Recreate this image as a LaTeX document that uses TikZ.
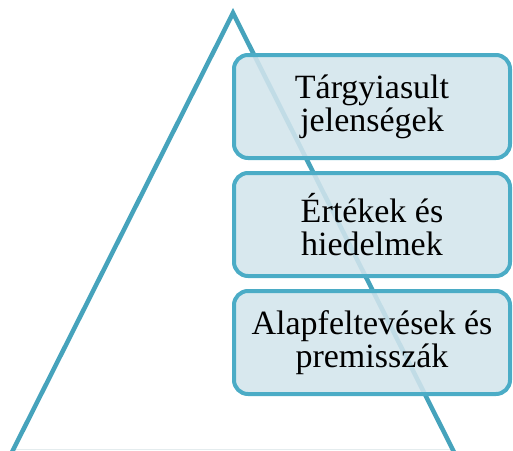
\documentclass[tikz,border=0pt]{standalone}
\usepackage{fontspec}
\setmainfont{Liberation Serif}
\definecolor{edgeblue}{HTML}{4BACC6}
\definecolor{lineblue}{HTML}{46A3BC}
\definecolor{boxfill}{HTML}{D3E5EC}
\definecolor{basegray}{HTML}{E4ECEE}
\tikzset{
  levelbox/.style={draw=edgeblue, line width=4pt, rounded corners=14pt,
    fill=boxfill, fill opacity=0.88, text opacity=1,
    minimum width=276pt, minimum height=103pt, inner sep=0pt,
    align=center, font=\fontsize{34pt}{33pt}\selectfont},
}
\begin{document}
\begin{tikzpicture}[x=1pt,y=-1pt]
\useasboundingbox (0,0) rectangle (513,450);
\begin{scope}
  \clip (0,0) rectangle (513,450);
  % pyramid outline, base below the frame
  \draw[draw=basegray, line width=1.5pt] (13,449.5) -- (455,449.5);
  \draw[lineblue, line width=4.5pt, line join=miter]
    (7,462) -- (233,13) -- (459,462);
\end{scope}
% the three levels
\node[levelbox] (top) at (372,106.5) {Tárgyiasult\\jelenségek};
\node[levelbox] (mid) at (372,224.5) {Értékek és\\hiedelmek};
\node[levelbox] (low) at (372,342.5) {Alapfeltevések és\\premisszák};
\end{tikzpicture}
\end{document}
